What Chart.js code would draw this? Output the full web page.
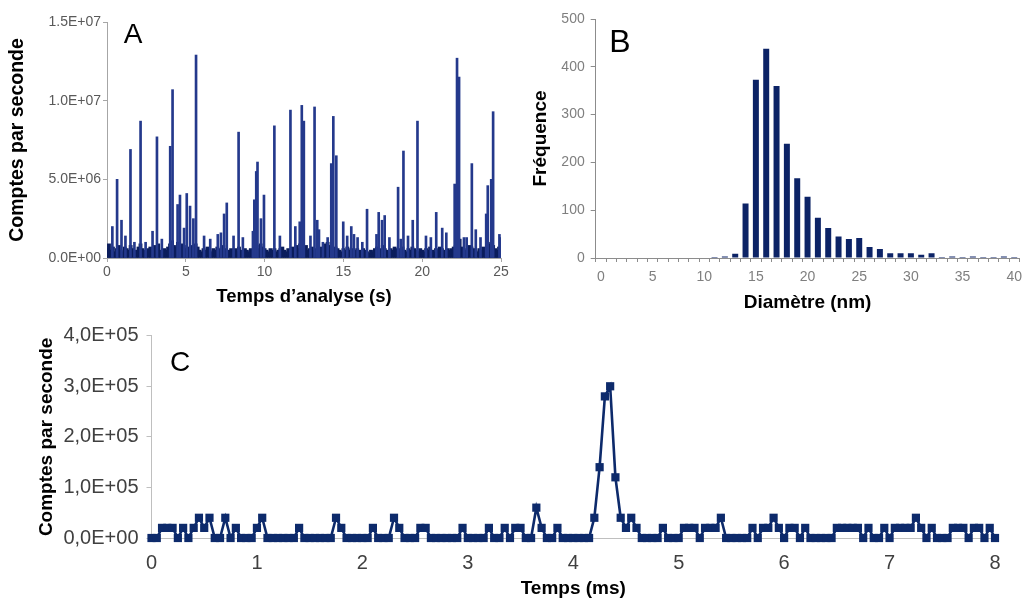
<!DOCTYPE html>
<html><head><meta charset="utf-8">
<script src="https://cdn.jsdelivr.net/npm/chart.js@4/dist/chart.umd.min.js"></script>
<style>
html,body{margin:0;padding:0;background:#fff;overflow:hidden;width:1023px;height:600px}
canvas{position:absolute}
</style></head><body>
<canvas id="ca" style="left:0;top:0" width="512" height="312"></canvas>
<canvas id="cb" style="left:512px;top:0" width="511" height="320"></canvas>
<canvas id="cc" style="left:0;top:318px" width="1023" height="282"></canvas>
<script>
// ---------- Panel A : time trace (s) ----------
const aBaseStep = 0.125; // s between baseline samples
const aBaseline = [
6e5,9e5,5e5,7e5,4e5,6e5,8e5,5e5,4e5,7e5,6e5,5e5,8e5,6e5,4e5,5e5,7e5,9e5,6e5,5e5,4e5,6e5,7e5,5e5,8e5,6e5,9e5,5e5,4e5,6e5,5e5,7e5,
9e5,1.1e6,8e5,7e5,1.0e6,6e5,9e5,8e5,6e5,7e5,5e5,8e5,6e5,9e5,7e5,5e5,4e5,6e5,5e5,7e5,5e5,4e5,6e5,5e5,7e5,6e5,5e5,8e5,6e5,4e5,5e5,6e5,
5e5,6e5,4e5,7e5,5e5,4e5,6e5,5e5,4e5,6e5,5e5,7e5,8e5,6e5,9e5,7e5,6e5,5e5,4e5,6e5,5e5,6e5,4e5,5e5,6e5,7e5,5e5,4e5,6e5,5e5,7e5,6e5,
8e5,6e5,9e5,7e5,6e5,8e5,5e5,6e5,7e5,5e5,6e5,4e5,5e5,7e5,6e5,9e5,1.0e6,8e5,6e5,5e5,7e5,6e5,5e5,4e5,6e5,5e5,7e5,5e5,6e5,4e5,5e5,6e5,
5e5,4e5,6e5,5e5,4e5,3e5,5e5,4e5,6e5,7e5,5e5,6e5,8e5,6e5,5e5,4e5,6e5,5e5,7e5,6e5,5e5,6e5,7e5,5e5,4e5,6e5,5e5,7e5,6e5,5e5,4e5,6e5,
5e5,4e5,6e5,5e5,7e5,5e5,4e5,6e5,5e5,7e5,6e5,5e5,4e5,6e5,5e5,6e5,7e5,8e5,1.0e6,1.2e6,7e5,6e5,5e5,6e5,8e5,7e5,6e5,5e5,4e5,6e5,5e5,7e5,
6e5,8e5,9e5,1.0e6,8e5,6e5,5e5,7e5
];
const aSpikeTimes = [0.34,0.64,0.92,1.17,1.49,1.74,2.13,2.45,2.89,3.17,3.48,4.01,4.16,4.48,4.63,4.89,5.06,5.27,5.48,5.65,6.16,6.55,7.03,7.23,7.43,7.6,8.03,8.35,8.62,9.26,9.35,9.47,9.55,9.77,9.96,10.62,10.97,11.64,11.95,12.23,12.36,12.49,12.91,13.17,13.34,13.45,13.7,14.0,14.23,14.36,14.55,14.99,15.24,15.5,15.67,15.9,16.2,16.5,17.1,17.24,17.45,17.62,17.92,18.47,18.64,18.81,19.1,19.4,19.7,20.24,20.55,20.89,21.27,21.53,22.06,22.21,22.34,22.65,22.82,23.15,23.4,23.7,24.06,24.16,24.38,24.5,24.9,24.97];
const aSpikeCounts = [2.0e6,5.0e6,2.4e6,1.4e6,6.9e6,1.0e6,8.7e6,1.0e6,1.7e6,7.7e6,1.2e6,7.1e6,10.7e6,3.4e6,4.0e6,1.9e6,4.1e6,3.3e6,2.5e6,12.9e6,1.4e6,1.2e6,1.5e6,1.6e6,2.8e6,3.5e6,1.4e6,8.0e6,1.3e6,1.7e6,3.7e6,5.5e6,6.1e6,2.5e6,4.0e6,8.4e6,1.4e6,9.4e6,2.0e6,2.3e6,9.7e6,8.7e6,1.4e6,9.6e6,2.4e6,1.8e6,1.0e6,1.3e6,6.0e6,9.0e6,6.5e6,2.3e6,1.4e6,2.0e6,1.5e6,1.3e6,1.0e6,3.1e6,1.5e6,2.9e6,2.4e6,2.7e6,1.3e6,4.5e6,1.2e6,6.8e6,1.4e6,2.4e6,8.7e6,1.4e6,1.3e6,2.9e6,1.9e6,1.6e6,4.7e6,12.7e6,11.5e6,1.3e6,1.3e6,6.0e6,1.8e6,1.3e6,2.8e6,4.6e6,5.0e6,9.3e6,1.5e6,1.3e6];
const aYTicks = [0, 5e6, 1e7, 1.5e7];

// ---------- Panel B : size histogram ----------
const bCategories = [0,1,2,3,4,5,6,7,8,9,10,11,12,13,14,15,16,17,18,19,20,21,22,23,24,25,26,27,28,29,30,31,32,33,34,35,36,37,38,39,40];
const bCounts = [0,0,0,0,0,0,0,0,0,0,0,2,3,9,114,373,438,360,239,167,128,84,63,45,40,42,23,19,10,10,10,7,10,2,3,2,3,2,2,3,2];

// ---------- Panel C : single particle event (ms) ----------
const cStepMs = 0.05; // dwell time
const cCounts = [
0,0,2e4,2e4,2e4,0,2e4,0,2e4,4e4,2e4,4e4,0,0,4e4,0,2e4,0,0,0,
2e4,4e4,0,0,0,0,0,0,2e4,0,0,0,0,0,0,4e4,2e4,0,0,0,
0,0,2e4,0,0,0,4e4,2e4,0,0,0,2e4,2e4,0,0,0,0,0,0,2e4,
0,0,0,0,2e4,0,0,2e4,0,2e4,2e4,0,0,6e4,2e4,0,0,2e4,0,0,
0,0,0,0,4e4,14e4,28e4,30e4,12e4,4e4,2e4,4e4,2e4,0,0,0,0,2e4,0,0,
0,2e4,2e4,2e4,0,2e4,2e4,2e4,4e4,0,0,0,0,0,2e4,0,2e4,2e4,4e4,2e4,
0,2e4,2e4,0,2e4,0,0,0,0,0,2e4,2e4,2e4,2e4,2e4,0,2e4,0,0,2e4,
0,2e4,2e4,2e4,2e4,4e4,2e4,0,2e4,0,0,0,2e4,2e4,2e4,0,2e4,2e4,0,2e4,
0
];

const FONT = "'Liberation Sans', Arial, Helvetica, sans-serif";
Chart.defaults.font.family = FONT;

function fmtE(v, sep){
  if (v === 0) return '0' + sep + '0E+00';
  const e = Math.floor(Math.log10(v) + 1e-9);
  const m = v / Math.pow(10, e);
  return m.toFixed(1).replace('.', sep) + 'E+' + String(e).padStart(2, '0');
}

const letterPlugin = {
  id: 'letter',
  afterDraw(chart, args, o){
    const ctx = chart.ctx;
    ctx.save();
    ctx.font = o.size + 'px ' + FONT;
    ctx.fillStyle = '#000';
    ctx.textAlign = 'center';
    ctx.textBaseline = 'middle';
    ctx.fillText(o.text, o.x, o.y);
    ctx.restore();
  }
};

const baseOpts = {responsive:false, animation:false, events:[]};
const axisGray = '#a6a6a6';

// Panel A
new Chart(document.getElementById('ca'), {
  type:'bar',
  data:{datasets:[
    {data: aSpikeTimes.map((t,i)=>({x:t, y:aSpikeCounts[i]})), backgroundColor:'#24398c', barThickness:2, grouped:false, order:1},
    {data: aBaseline.map((v,i)=>({x:i*aBaseStep, y:v})), backgroundColor:'#0b1d5c', barThickness:3.2, grouped:false, order:2}
  ]},
  options:Object.assign({}, baseOpts, {
    layout:{padding:{left:0, top:22, right:11, bottom:0}},
    plugins:{legend:{display:false}, tooltip:{enabled:false}, letter:{text:'A', x:133, y:35, size:28}},
    scales:{
      x:{type:'linear', min:0, max:25, offset:false,
         ticks:{stepSize:5, color:'#595959', font:{size:14}, padding:2, maxRotation:0},
         grid:{offset:false, drawOnChartArea:false, tickLength:4, color:axisGray},
         border:{display:true, color:axisGray},
         title:{display:true, text:'Temps d’analyse (s)', color:'#000', font:{size:18.5, weight:'bold'}, padding:{top:0, bottom:4}},
         afterFit(s){ s.height = 54; s.paddingLeft = 0; s.paddingRight = 0; }},
      y:{min:0, max:1.5e7,
         afterBuildTicks(s){ s.ticks = aYTicks.map(v=>({value:v})); },
         ticks:{color:'#595959', font:{size:14}, padding:2, callback:v=>fmtE(v,'.')},
         grid:{drawOnChartArea:false, tickLength:4, color:axisGray},
         border:{display:true, color:axisGray},
         title:{display:true, text:'Comptes par seconde', color:'#000', font:{size:19.5, weight:'bold'}, padding:{top:6, bottom:0}},
         afterFit(s){ s.width = 107; s.paddingTop = 0; s.paddingBottom = 0; }}
    }
  }),
  plugins:[letterPlugin]
});

// Panel B
new Chart(document.getElementById('cb'), {
  type:'bar',
  data:{labels:bCategories.map(String), datasets:[
    {data:bCounts, backgroundColor:'#0c2366', categoryPercentage:1, barPercentage:0.58}
  ]},
  options:Object.assign({}, baseOpts, {
    layout:{padding:{left:0, top:19, right:3.6, bottom:0}},
    plugins:{legend:{display:false}, tooltip:{enabled:false}, letter:{text:'B', x:108, y:43, size:32}},
    scales:{
      x:{type:'category', offset:true,
         ticks:{autoSkip:false, maxRotation:0, color:'#7f7f7f', font:{size:14}, padding:7,
                callback:(v,i)=> (bCategories[i] % 5 === 0 ? String(bCategories[i]) : '')},
         grid:{offset:true, drawOnChartArea:false, tickLength:4, color:'#8c8c8c'},
         border:{display:true, color:'#8c8c8c'},
         title:{display:true, text:'Diamètre (nm)', color:'#000', font:{size:19, weight:'bold'}, padding:{top:0, bottom:6}},
         afterFit(s){ s.height = 62; s.paddingLeft = 0; s.paddingRight = 0; }},
      y:{min:0, max:500,
         ticks:{stepSize:100, color:'#7f7f7f', font:{size:14}, padding:6},
         grid:{drawOnChartArea:false, tickLength:5, color:'#8c8c8c'},
         border:{display:true, color:'#8c8c8c'},
         title:{display:true, text:'Fréquence', color:'#000', font:{size:19, weight:'bold'}, padding:{top:17, bottom:0}},
         afterFit(s){ s.width = 83.7; s.paddingTop = 0; s.paddingBottom = 0; }}
    }
  }),
  plugins:[letterPlugin]
});

// Panel C
new Chart(document.getElementById('cc'), {
  type:'line',
  data:{datasets:[
    {data: cCounts.map((v,i)=>({x:i*cStepMs, y:v})), borderColor:'#0d2a6b', backgroundColor:'#0d2a6b',
     borderWidth:2.6, pointStyle:'rect', pointRadius:5.8, pointBorderWidth:0, tension:0, clip:false}
  ]},
  options:Object.assign({}, baseOpts, {
    layout:{padding:{left:0, top:17.7, right:28, bottom:0}},
    plugins:{legend:{display:false}, tooltip:{enabled:false}, letter:{text:'C', x:180, y:45, size:28}},
    scales:{
      x:{type:'linear', min:0, max:8,
         ticks:{stepSize:1, color:'#404040', font:{size:20}, padding:13},
         grid:{drawOnChartArea:false, drawTicks:false, color:'#bfbfbf'},
         border:{display:true, color:'#bfbfbf'},
         title:{display:true, text:'Temps (ms)', color:'#000', font:{size:19, weight:'bold'}, padding:{top:0, bottom:0}},
         afterFit(s){ s.height = 62; s.paddingLeft = 0; s.paddingRight = 0; }},
      y:{min:0, max:4e5,
         ticks:{stepSize:1e5, color:'#404040', font:{size:20}, padding:8, callback:v=>fmtE(v,',')},
         grid:{drawOnChartArea:false, tickLength:5, color:'#bfbfbf'},
         border:{display:true, color:'#bfbfbf'},
         title:{display:true, text:'Comptes par seconde', color:'#000', font:{size:19, weight:'bold'}, padding:{top:35, bottom:0}},
         afterFit(s){ s.width = 151.5; s.paddingTop = 0; s.paddingBottom = 0; }}
    }
  }),
  plugins:[letterPlugin]
});
</script>
</body></html>
